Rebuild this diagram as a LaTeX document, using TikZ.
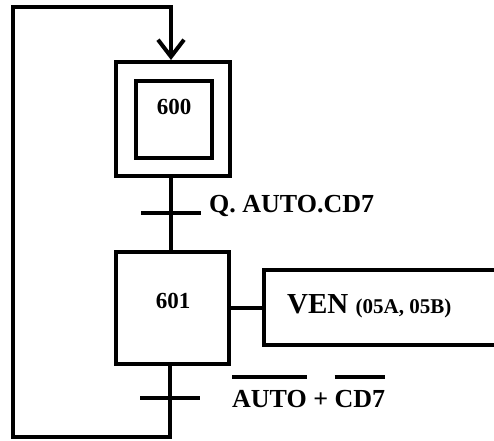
\documentclass[tikz,border=0pt]{standalone}
\usepackage{fontspec}
\setmainfont{Liberation Serif}
\usetikzlibrary{arrows.meta,positioning}
\newcommand{\negbar}[1]{\vbox{\hrule height 3.3pt\kern 11pt\hbox{#1}}}

\begin{document}
\begin{tikzpicture}[x=1pt, y=-1pt,
  every node/.style={font=\bfseries},
  stepbox/.style={draw, line width=4pt, inner sep=0pt,
                  minimum width=113pt, minimum height=112pt},
  actbox/.style={draw, line width=4pt, inner sep=0pt,
                 minimum width=256pt, minimum height=75pt},
  steplabel/.style={font=\fontsize{23}{25}\selectfont\bfseries, inner sep=0pt},
  trlabel/.style={font=\fontsize{26}{28}\selectfont\bfseries, inner sep=0pt, anchor=base west},
  trbar/.style={fill=black, inner sep=0pt, minimum width=60pt, minimum height=4pt},
  link/.style={line width=4pt},
]
\clip (0,0) rectangle (494,440);

% Steps
\node[stepbox, minimum width=114pt, minimum height=114pt] (s600) at (173,119) {};
\node[stepbox, minimum width=76pt, minimum height=77pt] (s600in) at (174,119.5) {};
\node[steplabel] (l600) at (174,107) {600};
\node[stepbox] (s601) at (172.5,307.5) {};
\node[steplabel] (l601) at (173,301) {601};

% Action
\node[actbox] (a601) at (392,307.5) {};
\node[anchor=base west, inner sep=0pt] (t601) at (287,313)
  {\fontsize{29}{30}\selectfont VEN {\fontsize{21}{22}\selectfont(05A, 05B)}};
\draw[link] (s601.east) -- (a601.west);

% Transitions
\node[trbar] (t1) at (171,213) {};
\node[trbar] (t2) at (170,398) {};
\node[trlabel] (c1) at (209,212) {Q. AUTO.CD7};
\node[trlabel] (c2) at (232,407) {\negbar{AUTO} + \negbar{CD7}};

% Links
\coordinate (loopbl) at (13,437);
\coordinate (looptl) at (13,7);
\draw[link] (s600.south -| t1) -- (s601.north -| t1);
\draw[link, -{Straight Barb[length=17pt, width=26pt, line width=4pt]}]
  (s601.south -| t2) |- (loopbl) -- (looptl) -| (s600.north -| t1);

\end{tikzpicture}
\end{document}
